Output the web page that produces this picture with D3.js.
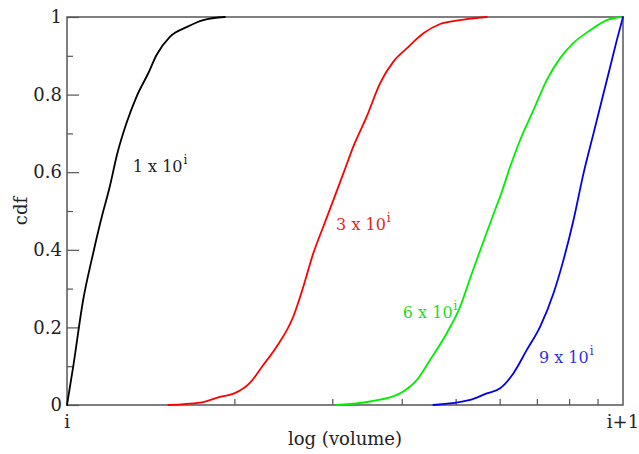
<!DOCTYPE html>
<html>
<head>
<meta charset="utf-8">
<script src="https://cdn.jsdelivr.net/npm/d3@7"></script>
<style>
body { margin: 0; background: #fff; }
text { font-family: "DejaVu Serif", serif; }
</style>
</head>
<body>
<svg class="plot" width="639" height="454"></svg>
<script>
// volume in units of 10^i (log axis from 10^i to 10^(i+1)), cdf value
var vol1 = [1, 1.026, 1.069, 1.114, 1.155, 1.194, 1.230, 1.279, 1.334, 1.400, 1.449, 1.531, 1.641, 1.758, 1.923];
var cdf1 = [0, 0.099, 0.27, 0.39, 0.485, 0.563, 0.645, 0.726, 0.795, 0.855, 0.902, 0.949, 0.974, 0.992, 1];

var vol3 = [1.521, 1.734, 1.884, 2.000, 2.133, 2.254, 2.382, 2.553, 2.661, 2.773, 2.891, 3.013, 3.141, 3.273, 3.459, 3.656, 3.864, 4.083, 4.375, 4.688, 5.093, 5.689];
var cdf3 = [0, 0.006, 0.021, 0.030, 0.057, 0.103, 0.150, 0.228, 0.305, 0.391, 0.46, 0.528, 0.597, 0.666, 0.743, 0.829, 0.885, 0.919, 0.958, 0.982, 0.992, 1];

var vol6 = [3.055, 3.508, 3.972, 4.256, 4.498, 4.819, 5.093, 5.346, 5.623, 5.916, 6.012, 6.266, 6.531, 6.902, 7.295, 7.709, 8.128, 8.730, 9.354, 9.886];
var cdf6 = [0, 0.009, 0.030, 0.064, 0.116, 0.185, 0.253, 0.339, 0.425, 0.511, 0.537, 0.614, 0.683, 0.760, 0.838, 0.894, 0.932, 0.966, 0.992, 1];

var vol9 = [4.560, 5.309, 5.689, 6.012, 6.353, 6.714, 7.096, 7.499, 7.816, 8.147, 8.492, 8.851, 9.162, 9.484, 9.750, 10];
var cdf9 = [0, 0.013, 0.030, 0.043, 0.082, 0.142, 0.202, 0.288, 0.374, 0.477, 0.597, 0.700, 0.786, 0.872, 0.941, 1];

var seriesNames = ["1", "3", "6", "9"];
var seriesColors = ["#000000", "#ff0000", "#00ee00", "#0000ee"];
var labelColors = ["#222222", "#ee2222", "#22dd22", "#3333dd"];
// label anchor: volume and cdf where the text sits
var labelVol = [1.313, 3.048, 4.018, 7.06];
var labelCdf = [0.6, 0.451, 0.224, 0.108];

var yTicks = [0, 0.2, 0.4, 0.6, 0.8, 1];
var yMinor = [0.1, 0.3, 0.5, 0.7, 0.9];
var xMinor = [2, 3, 4, 5, 6, 7, 8, 9];
var xTickLabels = [{v: 1, t: "i"}, {v: 10, t: "i+1"}];

var vols = [vol1, vol3, vol6, vol9];
var cdfs = [cdf1, cdf3, cdf6, cdf9];

var svg = d3.select(".plot"),
    margin = {top: 17, right: 16, bottom: 49, left: 67},
    width = +svg.attr("width") - margin.left - margin.right,
    height = +svg.attr("height") - margin.top - margin.bottom,
    g = svg.append("g").attr("transform", "translate(" + margin.left + "," + margin.top + ")");

var x = d3.scaleLog().domain([1, 10]).range([0, width]);
var y = d3.scaleLinear().domain([0, 1]).range([height, 0]);

var axisColor = "#555";

// y axis ticks (inward)
g.append("g")
    .call(d3.axisLeft(y).tickValues(yTicks).tickSize(-12).tickPadding(5).tickFormat(d3.format("")))
    .call(function(a) {
      a.select(".domain").remove();
      a.selectAll("line").attr("stroke", axisColor).attr("stroke-width", 1.2);
      a.selectAll("text").attr("font-size", 18).attr("fill", "#222").attr("font-family", "DejaVu Serif");
    });

g.append("g")
    .call(d3.axisLeft(y).tickValues(yMinor).tickSize(-6).tickFormat(""))
    .call(function(a) {
      a.select(".domain").remove();
      a.selectAll("line").attr("stroke", axisColor).attr("stroke-width", 1.2);
    });

// x axis minor ticks (inward)
g.append("g")
    .attr("transform", "translate(0," + height + ")")
    .call(d3.axisBottom(x).tickValues(xMinor).tickSize(-6).tickFormat(""))
    .call(function(a) {
      a.select(".domain").remove();
      a.selectAll("line").attr("stroke", axisColor).attr("stroke-width", 1.2);
    });

g.append("g")
    .selectAll("text")
    .data(xTickLabels)
    .enter().append("text")
      .attr("x", function(d) { return x(d.v); })
      .attr("y", height + 23)
      .attr("text-anchor", "middle")
      .attr("font-size", 18)
      .attr("fill", "#222")
      .text(function(d) { return d.t; });

// frame
g.append("rect")
    .attr("width", width)
    .attr("height", height)
    .attr("fill", "none")
    .attr("stroke", axisColor)
    .attr("stroke-width", 1.5);

var line = d3.line()
    .curve(d3.curveMonotoneX)
    .x(function(d) { return x(d[0]); })
    .y(function(d) { return y(d[1]); });

seriesNames.forEach(function(name, i) {
  var pts = d3.zip(vols[i], cdfs[i]);
  g.append("path")
      .datum(pts)
      .attr("fill", "none")
      .attr("stroke", seriesColors[i])
      .attr("stroke-width", 1.8)
      .attr("stroke-linejoin", "round")
      .attr("stroke-linecap", "round")
      .attr("d", line);

  var t = g.append("text")
      .attr("x", x(labelVol[i]))
      .attr("y", y(labelCdf[i]))
      .attr("font-size", 16)
      .attr("fill", labelColors[i]);
  t.append("tspan").text(name + " x 10");
  t.append("tspan").attr("dy", -8).attr("dx", 1).attr("font-size", 12).text("i");
});

// axis titles
svg.append("text")
    .attr("x", margin.left + width / 2)
    .attr("y", 445)
    .attr("text-anchor", "middle")
    .attr("font-size", 18)
    .attr("fill", "#222")
    .text("log (volume)");

svg.append("text")
    .attr("transform", "translate(27," + (margin.top + height / 2) + ") rotate(-90)")
    .attr("text-anchor", "middle")
    .attr("font-size", 18)
    .attr("fill", "#222")
    .text("cdf");
</script>
</body>
</html>
